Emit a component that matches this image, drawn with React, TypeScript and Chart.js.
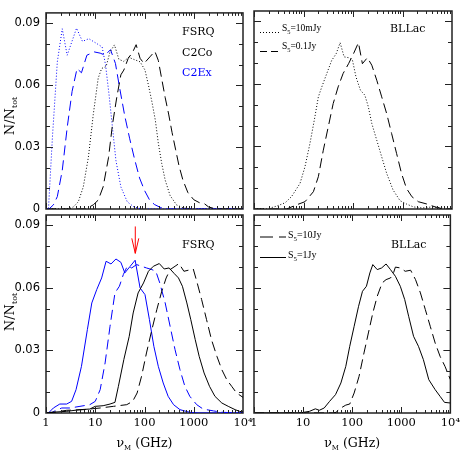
import React, { useEffect, useRef } from "react";
import { Chart, registerables } from "chart.js";
Chart.register(...registerables);

// ---------- axis ticks ----------
const X_TICK_VALUES = [1, 10, 100, 1000, 10000];
const X_TICK_LABELS = ["1", "10", "100", "1000", "10\u2074"];
const Y_TICK_VALUES = [0, 0.03, 0.06, 0.09];
const Y_TICK_LABELS = ["0", "0.03", "0.06", "0.09"];
const Y_MAX = 0.095;
const ARROW_NU_GHZ = 65;
const ARROW_TOP = 0.0895;
const ARROW_TIP = 0.0766;

// ---------- top-left: FSRQ, C2Co (black) / C2Ex (blue), 10mJy dotted, 0.1Jy dashed ----------
const tlExFaintLog = [0, 0.05, 0.13, 0.23, 0.33, 0.43, 0.62, 0.74, 0.87, 1.04, 1.14, 1.21, 1.28, 1.35, 1.42, 1.52, 1.65, 1.79, 1.95, 4.0];
const tlExFaintVal = [0, 0, 0.0346, 0.0713, 0.0873, 0.0745, 0.0876, 0.0812, 0.0825, 0.080, 0.0785, 0.0697, 0.0554, 0.0394, 0.0235, 0.0107, 0.0035, 0.0009, 0, 0];
const tlExBrightLog = [0, 0.06, 0.15, 0.23, 0.33, 0.43, 0.53, 0.63, 0.72, 0.83, 0.98, 1.1, 1.2, 1.31, 1.41, 1.5, 1.6, 1.7, 1.8, 1.9, 2.0, 2.1, 2.2, 2.32, 2.45, 4.0];
const tlExBrightVal = [0, 0, 0.002, 0.006, 0.0187, 0.0394, 0.057, 0.068, 0.066, 0.0745, 0.0761, 0.0755, 0.0745, 0.0772, 0.0705, 0.058, 0.045, 0.034, 0.024, 0.015, 0.009, 0.0045, 0.0022, 0.0008, 0, 0];
const tlCoFaintLog = [0, 0.45, 0.555, 0.656, 0.757, 0.86, 0.96, 1.06, 1.13, 1.22, 1.30, 1.39, 1.48, 1.58, 1.68, 1.78, 1.91, 2.01, 2.08, 2.15, 2.22, 2.28, 2.35, 2.42, 2.52, 2.65, 2.79, 2.95, 4.0];
const tlCoFaintVal = [0, 0, 0.001, 0.0035, 0.0107, 0.025, 0.0458, 0.0634, 0.0681, 0.069, 0.0761, 0.0795, 0.0725, 0.0715, 0.0735, 0.0725, 0.0713, 0.0673, 0.060, 0.052, 0.043, 0.032, 0.022, 0.014, 0.0065, 0.002, 0.0005, 0, 0];
const tlCoBrightLog = [0, 0.8, 0.96, 1.06, 1.16, 1.27, 1.35, 1.435, 1.52, 1.58, 1.67, 1.76, 1.83, 1.91, 1.99, 2.11, 2.21, 2.28, 2.35, 2.42, 2.49, 2.56, 2.63, 2.70, 2.78, 2.88, 3.0, 3.12, 3.22, 3.3, 3.45, 4.0];
const tlCoBrightVal = [0, 0, 0.002, 0.0043, 0.0107, 0.025, 0.041, 0.0538, 0.065, 0.0673, 0.073, 0.076, 0.0796, 0.073, 0.0705, 0.0737, 0.0764, 0.072, 0.063, 0.054, 0.046, 0.037, 0.029, 0.021, 0.014, 0.008, 0.0045, 0.003, 0.0025, 0.001, 0, 0];

// ---------- top-right: BLLac, 10mJy dotted, 0.1Jy dashed ----------
const trFaintLog = [0, 0.256, 0.46, 0.63, 0.76, 0.93, 1.03, 1.13, 1.23, 1.30, 1.37, 1.47, 1.57, 1.66, 1.74, 1.82, 1.91, 1.99, 2.06, 2.15, 2.24, 2.31, 2.38, 2.48, 2.58, 2.68, 2.81, 2.95, 3.08, 3.22, 3.4, 3.6, 3.8, 4.0];
const trFaintVal = [0, 0, 0.0014, 0.003, 0.006, 0.0123, 0.0203, 0.0314, 0.0442, 0.0538, 0.0586, 0.065, 0.0713, 0.0745, 0.0798, 0.073, 0.0726, 0.0713, 0.0634, 0.057, 0.0546, 0.049, 0.041, 0.033, 0.025, 0.0171, 0.0091, 0.004, 0.0024, 0.001, 0.0005, 0.001, 0.0005, 0];
const trBrightLog = [0, 0.66, 0.86, 1.03, 1.2, 1.30, 1.40, 1.50, 1.60, 1.70, 1.80, 1.91, 2.01, 2.11, 2.19, 2.29, 2.38, 2.48, 2.58, 2.68, 2.78, 2.88, 2.98, 3.08, 3.19, 3.32, 3.49, 3.66, 3.82, 4.0];
const trBrightVal = [0, 0, 0.002, 0.0035, 0.0083, 0.0155, 0.0282, 0.0394, 0.0506, 0.0586, 0.065, 0.0697, 0.0745, 0.0798, 0.0697, 0.0726, 0.069, 0.0618, 0.0538, 0.0458, 0.0362, 0.0267, 0.0171, 0.0099, 0.0059, 0.0035, 0.0024, 0.001, 0, 0];

// ---------- bottom-left: FSRQ, 1Jy solid, 10Jy dashed ----------
const blExOneLog = [0, 0.05, 0.15, 0.28, 0.42, 0.52, 0.61, 0.72, 0.84, 0.93, 1.03, 1.13, 1.22, 1.32, 1.42, 1.52, 1.60, 1.71, 1.81, 1.91, 2.01, 2.10, 2.19, 2.28, 2.38, 2.48, 2.59, 2.72, 2.92, 3.1, 4.0];
const blExOneVal = [0, 0, 0.0024, 0.0043, 0.0043, 0.0056, 0.0112, 0.0224, 0.04, 0.0528, 0.0592, 0.0648, 0.0728, 0.0715, 0.0739, 0.0723, 0.0672, 0.0704, 0.0733, 0.06, 0.0568, 0.0448, 0.032, 0.0224, 0.0144, 0.008, 0.004, 0.0016, 0.0003, 0, 0];
const blExTenLog = [0, 0.10, 0.18, 0.32, 0.49, 0.69, 0.89, 1.0, 1.10, 1.20, 1.30, 1.40, 1.49, 1.57, 1.65, 1.74, 1.84, 1.94, 2.04, 2.15, 2.23, 2.31, 2.42, 2.52, 2.62, 2.72, 2.82, 2.92, 3.06, 3.19, 3.40, 3.60, 4.0];
const blExTenVal = [0, 0, 0.001, 0.0024, 0.0024, 0.0032, 0.004, 0.0056, 0.0112, 0.024, 0.0416, 0.0576, 0.0608, 0.0664, 0.0704, 0.0696, 0.0712, 0.0704, 0.0696, 0.0688, 0.068, 0.0624, 0.0528, 0.0416, 0.0304, 0.0208, 0.0128, 0.008, 0.004, 0.0019, 0.001, 0.0003, 0];
const blCoOneLog = [0, 0.08, 0.42, 0.69, 0.89, 1.0, 1.16, 1.30, 1.40, 1.47, 1.58, 1.69, 1.77, 1.87, 1.98, 2.08, 2.18, 2.30, 2.40, 2.50, 2.60, 2.69, 2.77, 2.86, 2.94, 3.03, 3.11, 3.21, 3.32, 3.43, 3.57, 3.70, 3.84, 3.93, 4.0];
const blCoOneVal = [0, 0.0003, 0.0008, 0.0016, 0.0019, 0.0032, 0.0035, 0.0043, 0.0051, 0.0128, 0.0256, 0.0368, 0.048, 0.0576, 0.0624, 0.068, 0.0704, 0.0717, 0.0691, 0.0696, 0.067, 0.0648, 0.0608, 0.0528, 0.0448, 0.0352, 0.0272, 0.0192, 0.0128, 0.008, 0.0048, 0.0032, 0.0016, 0.0008, 0.0005];
const blCoTenLog = [0, 0.15, 0.42, 0.76, 1.10, 1.37, 1.64, 1.76, 1.85, 1.94, 2.04, 2.15, 2.25, 2.35, 2.44, 2.52, 2.62, 2.70, 2.80, 2.89, 2.99, 3.07, 3.16, 3.26, 3.36, 3.47, 3.57, 3.67, 3.77, 3.87, 4.0];
const blCoTenVal = [0, 0.0003, 0.0013, 0.0016, 0.0024, 0.0032, 0.004, 0.0056, 0.0096, 0.0176, 0.0288, 0.04, 0.0496, 0.0584, 0.0648, 0.0688, 0.0704, 0.0717, 0.068, 0.0685, 0.0691, 0.0624, 0.0544, 0.0448, 0.0352, 0.0272, 0.0208, 0.016, 0.0128, 0.0096, 0.0075];

// ---------- bottom-right: BLLac, 10Jy dashed, 1Jy solid ----------
const brOneLog = [0, 0.93, 1.13, 1.25, 1.33, 1.43, 1.54, 1.66, 1.77, 1.87, 1.95, 2.04, 2.13, 2.21, 2.29, 2.36, 2.42, 2.51, 2.60, 2.69, 2.78, 2.88, 2.98, 3.07, 3.15, 3.25, 3.35, 3.45, 3.56, 3.69, 3.79, 3.88, 4.0];
const brOneVal = [0, 0, 0.0008, 0.002, 0.0013, 0.0024, 0.0056, 0.0088, 0.0144, 0.0224, 0.032, 0.0416, 0.0512, 0.0584, 0.0608, 0.0672, 0.0712, 0.0688, 0.0696, 0.0715, 0.0688, 0.0656, 0.0608, 0.0544, 0.0464, 0.0368, 0.032, 0.0256, 0.016, 0.0112, 0.008, 0.0051, 0.0048];
const brTenLog = [0, 1.6, 1.67, 1.77, 1.87, 1.95, 2.04, 2.14, 2.24, 2.33, 2.42, 2.51, 2.61, 2.69, 2.78, 2.83, 2.88, 2.98, 3.08, 3.19, 3.29, 3.39, 3.49, 3.59, 3.69, 3.79, 3.89, 4.0];
const brTenVal = [0, 0, 0.0003, 0.0024, 0.0038, 0.0043, 0.0096, 0.0176, 0.0288, 0.0384, 0.048, 0.056, 0.0624, 0.064, 0.0648, 0.0664, 0.07, 0.0696, 0.068, 0.0685, 0.064, 0.0576, 0.0496, 0.0416, 0.0336, 0.0272, 0.0224, 0.016];

// ---------- styles ----------
const BLUE = "#0000ff";
const BLACK = "#000000";
const DOT = [1, 2];
const DASH = [10, 5];
const SOLID: number[] = [];
const SERIF = "'DejaVu Serif', serif";
const SERIF_NARROW = "'Liberation Serif', 'Times New Roman', serif";
const SANS = "'DejaVu Sans', sans-serif";
const W = 463;

type Series = { log: number[]; val: number[]; color: string; dash: number[] };
type Txt = { text: string; dx: number; dy: number; color: string };
type Leg = { dash: number[]; x0: number; x1: number; ly: number; tx: number; ty: number; val: string; size: number };
type Panel = {
  area: [number, number, number, number];
  yLabels: boolean;
  xLabels: boolean;
  series: Series[];
  texts: Txt[];
  legend: Leg[];
  arrow?: boolean;
  yTitleCenter?: number;
};

const PANELS: Panel[] = [
  {
    area: [46, 11, 243, 209], yLabels: true, xLabels: false,
    series: [
      { log: tlCoFaintLog, val: tlCoFaintVal, color: BLACK, dash: DOT },
      { log: tlCoBrightLog, val: tlCoBrightVal, color: BLACK, dash: DASH },
      { log: tlExFaintLog, val: tlExFaintVal, color: BLUE, dash: DOT },
      { log: tlExBrightLog, val: tlExBrightVal, color: BLUE, dash: DASH },
    ],
    texts: [
      { text: "FSRQ", dx: 136, dy: 22, color: BLACK },
      { text: "C2Co", dx: 136, dy: 43, color: BLACK },
      { text: "C2Ex", dx: 136, dy: 63, color: BLUE },
    ],
    legend: [], yTitleCenter: 116,
  },
  {
    area: [254, 11, 452, 209], yLabels: false, xLabels: false,
    series: [
      { log: trFaintLog, val: trFaintVal, color: BLACK, dash: DOT },
      { log: trBrightLog, val: trBrightVal, color: BLACK, dash: DASH },
    ],
    texts: [{ text: "BLLac", dx: 136, dy: 21, color: BLACK }],
    legend: [
      { dash: DOT, x0: 6, x1: 25, ly: 21.5, tx: 28, ty: 20, val: "=10mJy", size: 9.5 },
      { dash: [7, 4], x0: 6, x1: 25, ly: 40.5, tx: 28, ty: 38, val: "=0.1Jy", size: 9.5 },
    ],
  },
  {
    area: [46, 215, 243, 413], yLabels: true, xLabels: true,
    series: [
      { log: blCoOneLog, val: blCoOneVal, color: BLACK, dash: SOLID },
      { log: blCoTenLog, val: blCoTenVal, color: BLACK, dash: DASH },
      { log: blExOneLog, val: blExOneVal, color: BLUE, dash: SOLID },
      { log: blExTenLog, val: blExTenVal, color: BLUE, dash: DASH },
    ],
    texts: [{ text: "FSRQ", dx: 136, dy: 33, color: BLACK }],
    legend: [], arrow: true, yTitleCenter: 312,
  },
  {
    area: [254, 215, 452, 413], yLabels: false, xLabels: true,
    series: [
      { log: brOneLog, val: brOneVal, color: BLACK, dash: SOLID },
      { log: brTenLog, val: brTenVal, color: BLACK, dash: DASH },
    ],
    texts: [{ text: "BLLac", dx: 137, dy: 33, color: BLACK }],
    legend: [
      { dash: [13, 6], x0: 6, x1: 32, ly: 22, tx: 34, ty: 23, val: "=10Jy", size: 10 },
      { dash: SOLID, x0: 6, x1: 32, ly: 42.5, tx: 34, ty: 43, val: "=1Jy", size: 10 },
    ],
  },
];

function drawParts(ctx: CanvasRenderingContext2D, x: number, y: number, parts: [string, number, number][], align: "left" | "center", family: string) {
  let total = 0;
  const widths = parts.map(([t, s]) => {
    ctx.font = `${s}px ${family}`;
    const w = ctx.measureText(t).width;
    total += w;
    return w;
  });
  let cx = align === "center" ? x - total / 2 : x;
  ctx.textAlign = "left";
  ctx.textBaseline = "alphabetic";
  parts.forEach(([t, s, dy], i) => {
    ctx.font = `${s}px ${family}`;
    ctx.fillText(t, cx, y + dy);
    cx += widths[i];
  });
}

function makeDeco(p: Panel) {
  return {
    id: "deco",
    beforeDatasetsDraw(chart: any) {
      const { ctx, chartArea: a } = chart;
      ctx.save();
      ctx.setLineDash([]);
      ctx.strokeStyle = "#222";
      ctx.lineWidth = 1.5;
      ctx.strokeRect(a.left, a.top, a.right - a.left, a.bottom - a.top);
      ctx.restore();
    },
    afterDatasetsDraw(chart: any) {
      const { ctx, chartArea: a, scales } = chart;
      const xs = scales.x, ys = scales.y;
      ctx.save();
      ctx.setLineDash([]);
      ctx.strokeStyle = "#222";
      ctx.lineWidth = 1;
      ctx.beginPath();
      for (let d = 0; d < 4; d++) {
        for (let m = 1; m < 10; m++) {
          const px = Math.round(xs.getPixelForValue(m * Math.pow(10, d))) + 0.5;
          const len = m === 1 ? 6 : 3;
          ctx.moveTo(px, a.bottom);
          ctx.lineTo(px, a.bottom - len);
          ctx.moveTo(px, a.top);
          ctx.lineTo(px, a.top + len);
        }
      }
      for (let k = 1; k <= 9; k++) {
        const py = Math.round(ys.getPixelForValue(k / 100)) + 0.5;
        const len = k % 3 === 0 ? 7 : 4;
        ctx.moveTo(a.left, py);
        ctx.lineTo(a.left + len, py);
        ctx.moveTo(a.right, py);
        ctx.lineTo(a.right - len, py);
      }
      ctx.stroke();

      for (const t of p.texts) {
        ctx.fillStyle = t.color;
        drawParts(ctx, a.left + t.dx, a.top + t.dy, [[t.text, 11, 0]], "left", SERIF);
      }
      for (const l of p.legend) {
        ctx.strokeStyle = "#000";
        ctx.lineWidth = 1;
        ctx.setLineDash(l.dash);
        ctx.beginPath();
        ctx.moveTo(a.left + l.x0, a.top + l.ly);
        ctx.lineTo(a.left + l.x1, a.top + l.ly);
        ctx.stroke();
        ctx.setLineDash([]);
        ctx.fillStyle = "#000";
        drawParts(ctx, a.left + l.tx, a.top + l.ty, [["S", l.size, 0], ["5", l.size * 0.68, 2.5], [l.val, l.size, 0]], "left", SERIF_NARROW);
      }
      if (p.arrow) {
        const px = xs.getPixelForValue(ARROW_NU_GHZ);
        const yTop = ys.getPixelForValue(ARROW_TOP);
        const yTip = ys.getPixelForValue(ARROW_TIP);
        ctx.strokeStyle = "#ff0000";
        ctx.lineWidth = 1;
        ctx.beginPath();
        ctx.moveTo(px, yTop);
        ctx.lineTo(px, yTip);
        ctx.moveTo(px - 3.5, yTip - 15);
        ctx.lineTo(px, yTip);
        ctx.lineTo(px + 3.5, yTip - 15);
        ctx.stroke();
      }
      ctx.fillStyle = "#000";
      if (p.yTitleCenter !== undefined) {
        ctx.save();
        ctx.translate(14, p.yTitleCenter);
        ctx.rotate(-Math.PI / 2);
        drawParts(ctx, 0, 0, [["N/N", 13, 0], ["tot", 8, 3]], "center", SERIF);
        ctx.restore();
      }
      if (p.xLabels) {
        drawParts(ctx, (a.left + a.right) / 2, 447, [["\u03bd", 12.5, 0], ["M", 7, 3], [" (GHz)", 12.5, 0]], "center", SERIF);
      }
      ctx.restore();
    },
  };
}

function buildChart(canvas: HTMLCanvasElement, p: Panel) {
  const [l, t, r, b] = p.area;
  const yW = p.yLabels ? 46 : 0;
  const xH = p.xLabels ? 30 : 0;
  return new Chart(canvas, {
    type: "line",
    data: {
      datasets: p.series.map((s) => ({
        data: s.log.map((lg, i) => ({ x: Math.pow(10, lg), y: s.val[i] })),
        borderColor: s.color,
        borderWidth: 1,
        borderDash: s.dash,
        pointRadius: 0,
        tension: 0,
        fill: false,
      })),
    },
    options: {
      animation: false,
      responsive: false,
      events: [],
      layout: { padding: { left: l - yW, top: t, right: W - r, bottom: W - b - xH } },
      plugins: { legend: { display: false }, tooltip: { enabled: false } },
      scales: {
        x: {
          type: "logarithmic",
          min: 1,
          max: 10000,
          display: p.xLabels,
          grid: { display: false, drawTicks: false },
          border: { display: false },
          afterBuildTicks: (s: any) => { s.ticks = X_TICK_VALUES.map((v) => ({ value: v })); },
          afterFit: (s: any) => { if (p.xLabels) s.height = 30; },
          ticks: {
            autoSkip: false, maxRotation: 0, minRotation: 0, padding: 3, color: "#000",
            font: { family: SERIF, size: 11.5 },
            callback: (_v: any, i: number) => X_TICK_LABELS[i],
          },
        },
        y: {
          type: "linear",
          min: 0,
          max: Y_MAX,
          display: p.yLabels,
          grid: { display: false, drawTicks: false },
          border: { display: false },
          afterBuildTicks: (s: any) => { s.ticks = Y_TICK_VALUES.map((v) => ({ value: v })); },
          afterFit: (s: any) => { if (p.yLabels) s.width = 46; },
          ticks: {
            padding: 6, color: "#000",
            font: { family: SANS, size: 11.5 },
            callback: (_v: any, i: number) => Y_TICK_LABELS[i],
          },
        },
      },
    } as any,
    plugins: [makeDeco(p)],
  });
}

export default function App() {
  const refs = useRef<(HTMLCanvasElement | null)[]>([]);
  useEffect(() => {
    const charts = PANELS.map((p, i) => buildChart(refs.current[i] as HTMLCanvasElement, p));
    return () => charts.forEach((c) => c.destroy());
  }, []);
  return (
    <div style={{ position: "fixed", left: 0, top: 0, width: W, height: W, background: "#fff" }}>
      {PANELS.map((_p, i) => (
        <canvas
          key={i}
          ref={(el) => { refs.current[i] = el; }}
          width={W}
          height={W}
          style={{ position: "absolute", left: 0, top: 0, width: W, height: W }}
        />
      ))}
    </div>
  );
}
